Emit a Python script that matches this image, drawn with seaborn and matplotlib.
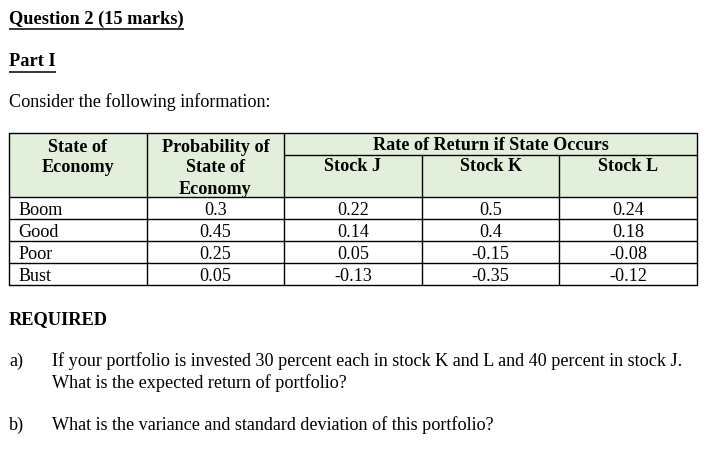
import numpy as np
import pandas as pd
import matplotlib
matplotlib.use("Agg")
import matplotlib.pyplot as plt
import seaborn as sns
from matplotlib.colors import ListedColormap
from matplotlib.patches import Rectangle

# table contents
states = ["Boom", "Good", "Poor", "Bust"]
prob = [0.3, 0.45, 0.25, 0.05]
stock_j = [0.22, 0.14, 0.05, -0.13]
stock_k = [0.5, 0.4, -0.15, -0.35]
stock_l = [0.24, 0.18, -0.08, -0.12]
stock_names = ["Stock J", "Stock K", "Stock L"]

sns.set_theme(style="white")
plt.rcParams["font.family"] = ["Liberation Serif", "DejaVu Serif"]

FS = 13.1
HS = 13.25
ink = "#000000"
green = "#e2efda"

fig = plt.figure(figsize=(7.15, 4.55), dpi=100)
ax = fig.add_axes([0, 0, 1, 1])
ax.set_xlim(0, 715)
ax.set_ylim(455, 0)
ax.axis("off")


def underlined(x, y, s):
    t = ax.text(x, y, s, fontsize=HS, fontweight="bold", va="baseline", color=ink)
    fig.canvas.draw()
    bb = t.get_window_extent().transformed(ax.transData.inverted())
    ax.plot([bb.x0, bb.x1], [y + 5, y + 5], color=ink, lw=1.1, solid_capstyle="butt")


underlined(9, 24, "Question 2 (15 marks)")
underlined(9, 66.5, "Part I")
ax.text(9, 107, "Consider the following information:", fontsize=FS, va="baseline", color=ink)

# table frame
left, right = 9, 697
top, sub, head_bot, bottom = 133, 155, 197, 285
edges = np.linspace(left, right, 6)
mids = (edges[:-1] + edges[1:]) / 2
rows = np.linspace(head_bot, bottom, len(states) + 1)
lw = 1.0

ax.add_patch(Rectangle((left, top), right - left, head_bot - top, facecolor=green, edgecolor="none"))

# table body as a heatmap (cells + values)
table = pd.DataFrame({"State": states, "Probability": prob,
                      "Stock J": stock_j, "Stock K": stock_k, "Stock L": stock_l})
labels = table.astype(str).values

hax = fig.add_axes([left / 715, 1 - bottom / 455, (right - left) / 715, (bottom - head_bot) / 455])
sns.heatmap(np.zeros(labels.shape), annot=labels, fmt="", cmap=ListedColormap(["white"]),
            vmin=0, vmax=1, cbar=False, linewidths=0,
            xticklabels=False, yticklabels=False, ax=hax,
            annot_kws=dict(fontsize=FS, color=ink))
hax.patch.set_alpha(0)
for t in hax.texts:
    x, y = t.get_position()
    if x < 1:
        t.set_x(0.07)
        t.set_ha("left")
    t.set_y(y + 0.12)

# grid lines drawn over everything
gax = fig.add_axes([0, 0, 1, 1])
gax.set_xlim(0, 715)
gax.set_ylim(455, 0)
gax.axis("off")
gax.patch.set_alpha(0)
gax.plot([left, right], [top, top], color=ink, lw=lw)
for y in rows:
    gax.plot([left, right], [y, y], color=ink, lw=lw)
for x in [left, edges[1], edges[2], right]:
    gax.plot([x, x], [top, bottom], color=ink, lw=lw)
gax.plot([edges[2], right], [sub, sub], color=ink, lw=lw)
for x in edges[3:5]:
    gax.plot([x, x], [sub, bottom], color=ink, lw=lw)

hb = dict(fontsize=FS, fontweight="bold", ha="center", va="baseline", color=ink)
gax.text(mids[0], 152, "State of", **hb)
gax.text(mids[0], 172, "Economy", **hb)
gax.text(mids[1], 152, "Probability of", **hb)
gax.text(mids[1], 172, "State of", **hb)
gax.text(mids[1], 193.5, "Economy", **hb)
gax.text((edges[2] + right) / 2, 150, "Rate of Return if State Occurs", **hb)
for m, name in zip(mids[2:], stock_names):
    gax.text(m, 171, name, **hb)

# questions
gax.text(9, 324, "REQUIRED", fontsize=HS, fontweight="bold", va="baseline", color=ink)
gax.text(9, 366, "a)", fontsize=FS, va="baseline", color=ink)
gax.text(52, 366, "If your portfolio is invested 30 percent each in stock K and L and 40 percent in stock J.",
         fontsize=FS, va="baseline", color=ink)
gax.text(52, 388, "What is the expected return of portfolio?", fontsize=FS, va="baseline", color=ink)
gax.text(9, 430, "b)", fontsize=FS, va="baseline", color=ink)
gax.text(52, 430, "What is the variance and standard deviation of this portfolio?", fontsize=FS,
         va="baseline", color=ink)

fig.savefig("out.png", dpi=100, facecolor="white")
